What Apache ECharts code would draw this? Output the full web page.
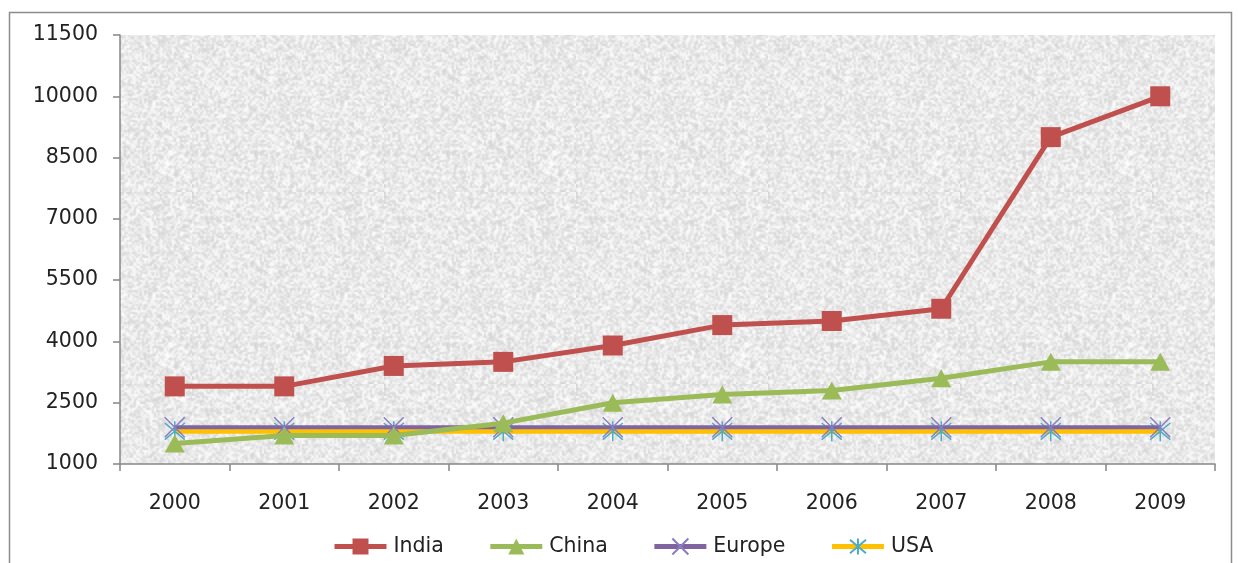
<!DOCTYPE html>
<html>
<head>
<meta charset="utf-8">
<script src="https://cdn.jsdelivr.net/npm/echarts@6/dist/echarts.min.js"></script>
<style>
  html, body { margin: 0; padding: 0; background: #fff; }
  #chart { width: 1238px; height: 563px; }
</style>
</head>
<body>
<div id="chart"></div>
<script>
// Yearly figures per region
const years = ['2000', '2001', '2002', '2003', '2004', '2005', '2006', '2007', '2008', '2009'];
const india  = [2900, 2900, 3400, 3500, 3900, 4400, 4500, 4800, 9000, 10000];
const china  = [1500, 1700, 1700, 2000, 2500, 2700, 2800, 3100, 3500, 3500];
const europe = [1900, 1900, 1900, 1900, 1900, 1900, 1900, 1900, 1900, 1900];
const usa    = [1800, 1800, 1800, 1800, 1800, 1800, 1800, 1800, 1800, 1800];
const yTicks = [1000, 2500, 4000, 5500, 7000, 8500, 10000, 11500];

// Granite-like fill for the plot area (deterministic hash noise, upscaled for a blotchy grain)
function graniteTexture() {
  const small = document.createElement('canvas');
  small.width = 96; small.height = 96;
  const sctx = small.getContext('2d');
  const img = sctx.createImageData(96, 96);
  for (let y = 0; y < 96; y++) {
    for (let x = 0; x < 96; x++) {
      const h = Math.sin(x * 12.9898 + y * 78.233) * 43758.5453;
      const f = h - Math.floor(h);
      const v = Math.round(212 + f * 43);
      const i = (y * 96 + x) * 4;
      img.data[i] = v; img.data[i + 1] = v; img.data[i + 2] = v; img.data[i + 3] = 255;
    }
  }
  sctx.putImageData(img, 0, 0);
  const big = document.createElement('canvas');
  big.width = 192; big.height = 192;
  const bctx = big.getContext('2d');
  bctx.imageSmoothingEnabled = true;
  bctx.drawImage(small, 0, 0, 192, 192);
  return big;
}

const FONT = 'DejaVu Sans';
const FS = 20.5;
const crossPath = 'path://M0,0L10,10M10,0L0,10';
const starPath = 'path://M0,0L10,10M10,0L0,10M5,-1L5,11';

const chart = echarts.init(document.getElementById('chart'));
chart.setOption({
  animation: false,
  backgroundColor: '#ffffff',
  textStyle: { fontFamily: FONT },
  graphic: [{
    type: 'rect',
    shape: { x: 9.5, y: 12.5, width: 1222, height: 560 },
    style: { fill: 'none', stroke: '#8c8c8c', lineWidth: 1.5 },
    silent: true,
    z: -1
  }],
  grid: {
    left: 120, top: 35, right: 23, bottom: 99,
    show: true,
    backgroundColor: { image: graniteTexture(), repeat: 'repeat' },
    borderWidth: 0
  },
  legend: {
    bottom: 1,
    left: 327,
    itemWidth: 52,
    itemHeight: 20,
    itemGap: 44,
    lineStyle: { width: 5 },
    textStyle: { fontFamily: FONT, fontSize: FS, color: '#222', padding: [0, 0, 0, 2] },
    data: ['India', 'China', 'Europe', 'USA']
  },
  xAxis: {
    type: 'category',
    data: years,
    boundaryGap: true,
    axisLine: { lineStyle: { color: '#868686', width: 1.5 } },
    axisTick: { show: true, interval: 0, length: 7, lineStyle: { color: '#868686', width: 1.5 } },
    axisLabel: { fontFamily: FONT, fontSize: FS, color: '#222', margin: 29, interval: 0 },
    splitLine: { show: false }
  },
  yAxis: {
    type: 'value',
    min: 1000,
    max: 11500,
    axisLine: { show: true, lineStyle: { color: '#868686', width: 1.5 } },
    axisTick: { show: true, length: 7, customValues: yTicks, lineStyle: { color: '#868686', width: 1.5 } },
    axisLabel: {
      fontFamily: FONT, fontSize: FS, color: '#222', margin: 22,
      customValues: yTicks,
      formatter: v => String(v)
    },
    splitLine: { show: false }
  },
  series: [
    {
      name: 'India', type: 'line', data: india,
      symbol: 'rect', symbolSize: 20,
      lineStyle: { color: '#c0504d', width: 5 },
      itemStyle: { color: '#c0504d' },
      z: 5
    },
    {
      name: 'China', type: 'line', data: china,
      symbol: 'triangle', symbolSize: [20, 18],
      lineStyle: { color: '#9bbb59', width: 5 },
      itemStyle: { color: '#9bbb59' },
      z: 4
    },
    {
      name: 'Europe', type: 'line', data: europe,
      symbol: crossPath, symbolSize: 20,
      lineStyle: { color: '#8064a2', width: 4 },
      itemStyle: { color: '#8a7cc0', borderColor: '#8a7cc0', borderWidth: 1.5 },
      z: 3
    },
    {
      name: 'USA', type: 'line', data: usa,
      symbol: starPath, symbolSize: 20,
      lineStyle: { color: '#ffc000', width: 5 },
      itemStyle: { color: '#4bacc6', borderColor: '#4bacc6', borderWidth: 1.5 },
      z: 2
    }
  ]
});
</script>
</body>
</html>
